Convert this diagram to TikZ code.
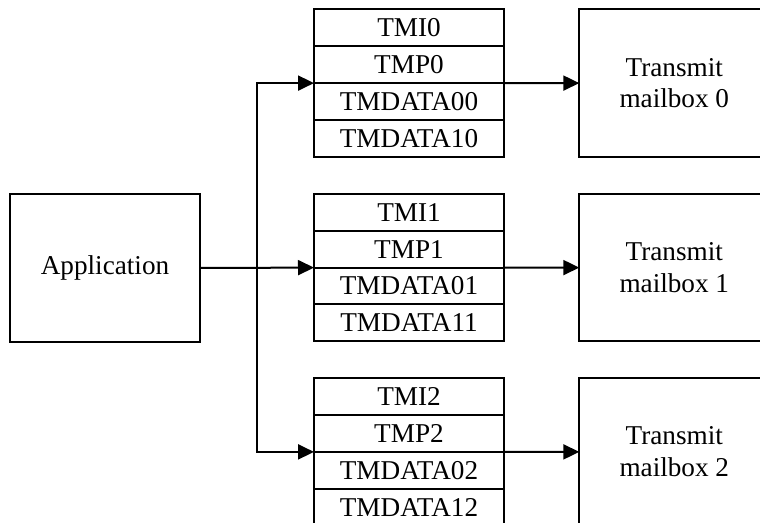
\documentclass[tikz,border=0pt]{standalone}
\usepackage{fontspec}
\setmainfont{Liberation Serif}
\usetikzlibrary{arrows.meta,positioning}

\begin{document}
\begin{tikzpicture}[x=0.5pt,y=-0.5pt,line width=1pt,
  every node/.style={font=\fontsize{13.6}{15.8}\selectfont,align=center},
  box/.style={draw,outer sep=0pt,minimum width=95pt,minimum height=73.6pt},
  reg/.style={draw,outer sep=0pt,minimum width=95pt,minimum height=18.4pt,inner sep=0pt},
  arr/.style={-{Triangle[length=8pt,width=7.5pt]}}]
\useasboundingbox (0,0) rectangle (760,523);
\node[box] (app) at (105,268) {Application};
\coordinate (split) at (256.7,268);
\foreach \i/\y in {0/9.5,1/194,2/378.3}
{\node[reg,anchor=north] (s\i-1) at (409,\y) {TMI\i};
 \node[reg,below=0pt of s\i-1] (s\i-2) {TMP\i};
 \node[reg,below=0pt of s\i-2] (s\i-3) {TMDATA0\i};
 \node[reg,below=0pt of s\i-3] (s\i-4) {TMDATA1\i};
 \node[box,anchor=north west] (mb\i) at (579.3,\y) {Transmit\\mailbox \i};
 \draw[arr] (s\i-2.south east)--(mb\i.west);}
\draw[arr] (app.east)--(s1-2.south west);
\draw[arr] (split) |- (s0-2.south west);
\draw[arr] (split) |- (s2-2.south west);
\end{tikzpicture}
\end{document}
